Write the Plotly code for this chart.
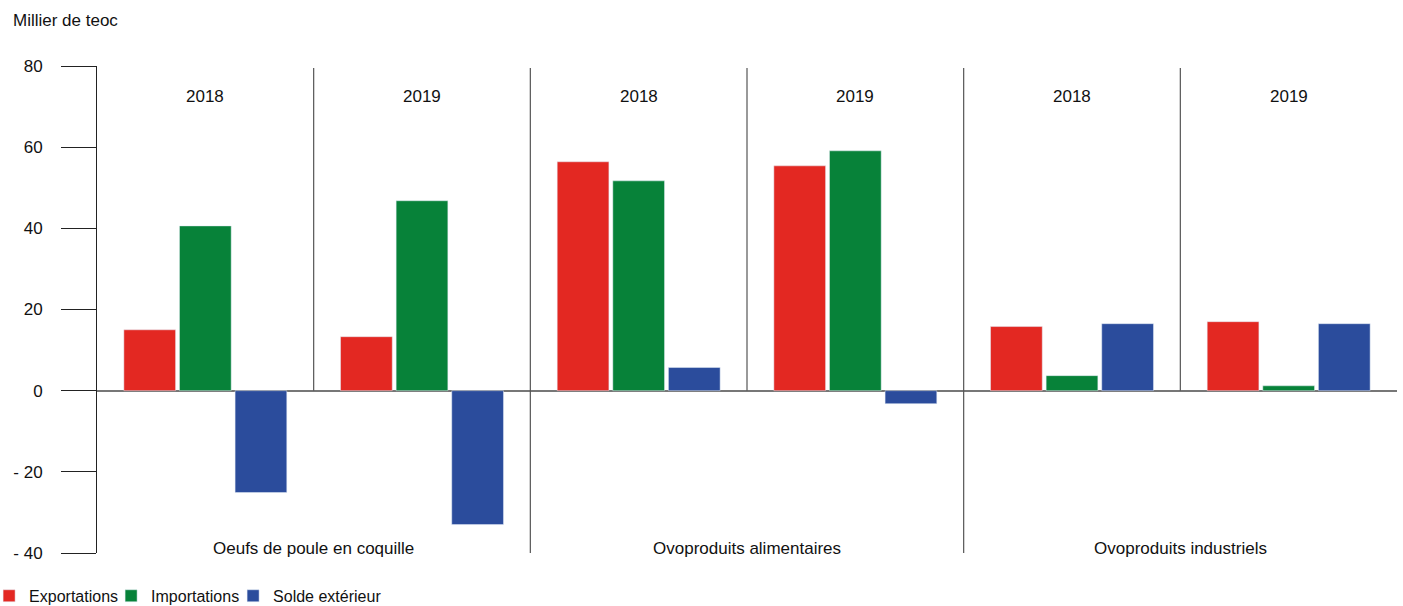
import plotly.graph_objects as go

# panels: 3 product groups x 2 years
positions = [0, 1, 2, 3, 4, 5]
years = ["2018", "2019", "2018", "2019", "2018", "2019"]
groups = ["Oeufs de poule en coquille", "Ovoproduits alimentaires", "Ovoproduits industriels"]

exportations = [15.0, 13.3, 56.4, 55.4, 15.8, 17.0]
importations = [40.6, 46.8, 51.7, 59.1, 3.7, 1.2]
solde = [-25.1, -33.0, 5.7, -3.2, 16.5, 16.5]

font = "Liberation Sans, Arial, sans-serif"

fig = go.Figure()
fig.add_trace(go.Bar(x=positions, y=exportations, name="Exportations", marker_color="#E32822"))
fig.add_trace(go.Bar(x=positions, y=importations, name="Importations", marker_color="#078239"))
fig.add_trace(go.Bar(x=positions, y=solde, name="Solde extérieur", marker_color="#2B4C9C"))
# invisible legend filler so the last legend label is not clipped
fig.add_trace(go.Scatter(x=[None], y=[None], name=" ", mode="markers",
                         marker=dict(color="rgba(0,0,0,0)"), hoverinfo="skip"))

# separators between years (down to zero) and between groups (full height)
for p in [0.5, 2.5, 4.5]:
    fig.add_shape(type="line", xref="x", yref="y", x0=p, x1=p, y0=0, y1=79.5,
                  line=dict(color="#555", width=1.2))
for p in [1.5, 3.5]:
    fig.add_shape(type="line", xref="x", yref="y", x0=p, x1=p, y0=-40, y1=79.5,
                  line=dict(color="#555", width=1.2))

for p, yr in zip(positions, years):
    fig.add_annotation(x=p, y=72.5, xref="x", yref="y", text=yr, showarrow=False,
                       font=dict(size=17, color="#111"))
for k, g in enumerate(groups):
    fig.add_annotation(x=2 * k + 0.5, y=-38.8, xref="x", yref="y", text=g, showarrow=False,
                       font=dict(size=17, color="#111"))

fig.add_annotation(x=-0.0665, y=0.069 + 1, xref="paper", yref="paper", text="Millier de teoc",
                   xanchor="left", yanchor="bottom", showarrow=False,
                   font=dict(size=17, color="#111"))

fig.update_layout(
    width=1403, height=606,
    margin=dict(l=97, r=6, t=66, b=53, autoexpand=False),
    paper_bgcolor="white", plot_bgcolor="white",
    font=dict(family=font, color="#111"),
    barmode="group", bargap=0.23, bargroupgap=0.07,
    showlegend=True,
    legend=dict(orientation="h", x=-0.083, xanchor="left", y=-0.088, yanchor="middle",
                font=dict(size=16), itemwidth=30, entrywidth=77, traceorder="normal"),
)
fig.update_xaxes(range=[-0.5, 5.5], showticklabels=False, showgrid=False,
                 zeroline=False, showline=False, ticks="")
fig.update_yaxes(range=[-40, 80], tickvals=[-40, -20, 0, 20, 40, 60, 80],
                 ticktext=["- 40", "- 20", "0", "20", "40", "60", "80"],
                 showgrid=False, showline=True, linecolor="#222", linewidth=1,
                 ticks="outside", ticklen=35, tickcolor="#222", tickwidth=1,
                 ticklabelstandoff=15, tickfont=dict(size=17),
                 zeroline=True, zerolinecolor="#777", zerolinewidth=1.5)

# page body margin would shift the whole figure by 8px
fig.write_html("out.html", config={"displayModeBar": False},
               post_script="document.body.style.margin='0';")
